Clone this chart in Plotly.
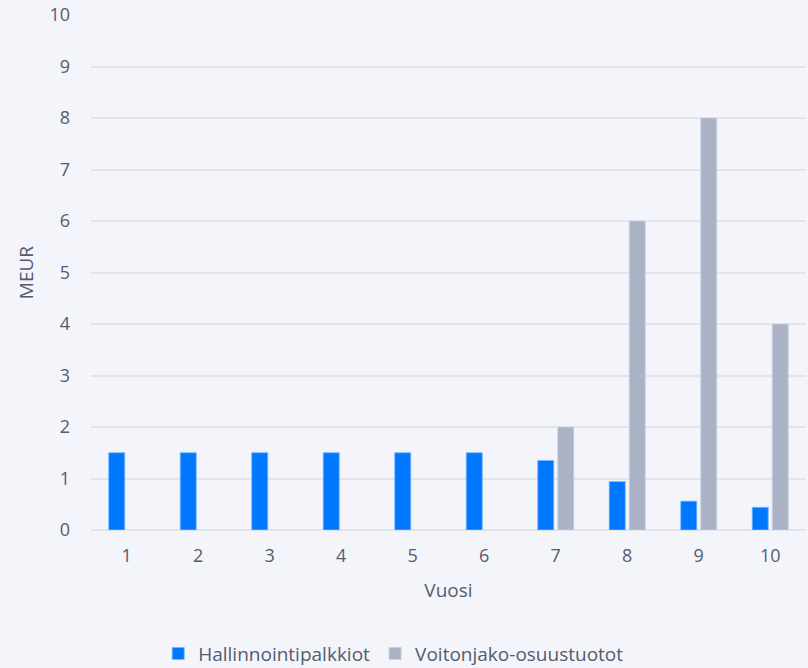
import plotly.graph_objects as go

# Vuosittaiset tuotot (MEUR)
vuodet = ["1", "2", "3", "4", "5", "6", "7", "8", "9", "10"]
hallinnointipalkkiot = [1.5, 1.5, 1.5, 1.5, 1.5, 1.5, 1.35, 0.94, 0.56, 0.44]
voitonjako = [None, None, None, None, None, None, 2, 6, 8, 4]
y_ticks = [0, 1, 2, 3, 4, 5, 6, 7, 8, 9, 10]

text_color = "#535c6e"
grid_color = "#e1e4ec"
bg = "#f3f5fa"
font_family = "'Open Sans', Lato, sans-serif"

fig = go.Figure()
fig.add_trace(go.Bar(
    x=vuodet, y=hallinnointipalkkiot, name="Hallinnointipalkkiot",
    marker=dict(color="#0077ff", line=dict(color="rgba(120,180,255,0.8)", width=1)),
))
fig.add_trace(go.Bar(
    x=vuodet, y=voitonjako, name="Voitonjako-osuustuotot",
    marker=dict(color="#abb2c5", line=dict(color="rgba(200,210,230,0.8)", width=1)),
))

fig.update_layout(
    width=808, height=668,
    margin=dict(l=91, r=2, t=15, b=138, autoexpand=False),
    paper_bgcolor=bg, plot_bgcolor=bg,
    font=dict(family=font_family, size=17, color=text_color),
    barmode="group", bargap=0.44, bargroupgap=0.2,
    showlegend=True,
    legend=dict(orientation="h", x=0.094, xanchor="left", y=-0.24, yanchor="middle",
                font=dict(size=19, color=text_color), itemwidth=30,
                traceorder="normal"),
    xaxis=dict(
        title=dict(text="Vuosi", font=dict(size=19, color=text_color), standoff=17),
        showgrid=False, showline=False, zeroline=False, ticks="",
        ticklabelstandoff=13, tickfont=dict(size=18, color=text_color),
    ),
    yaxis=dict(
        title=dict(text="MEUR", font=dict(size=19, color=text_color), standoff=10),
        range=[0, 10], tickvals=y_ticks, showgrid=True, gridcolor=grid_color, gridwidth=2,
        zeroline=True, zerolinecolor=grid_color, zerolinewidth=2, showline=False, ticks="",
        ticklabelstandoff=20, tickfont=dict(size=18, color=text_color),
    ),
)

fig.write_html("out.html")
